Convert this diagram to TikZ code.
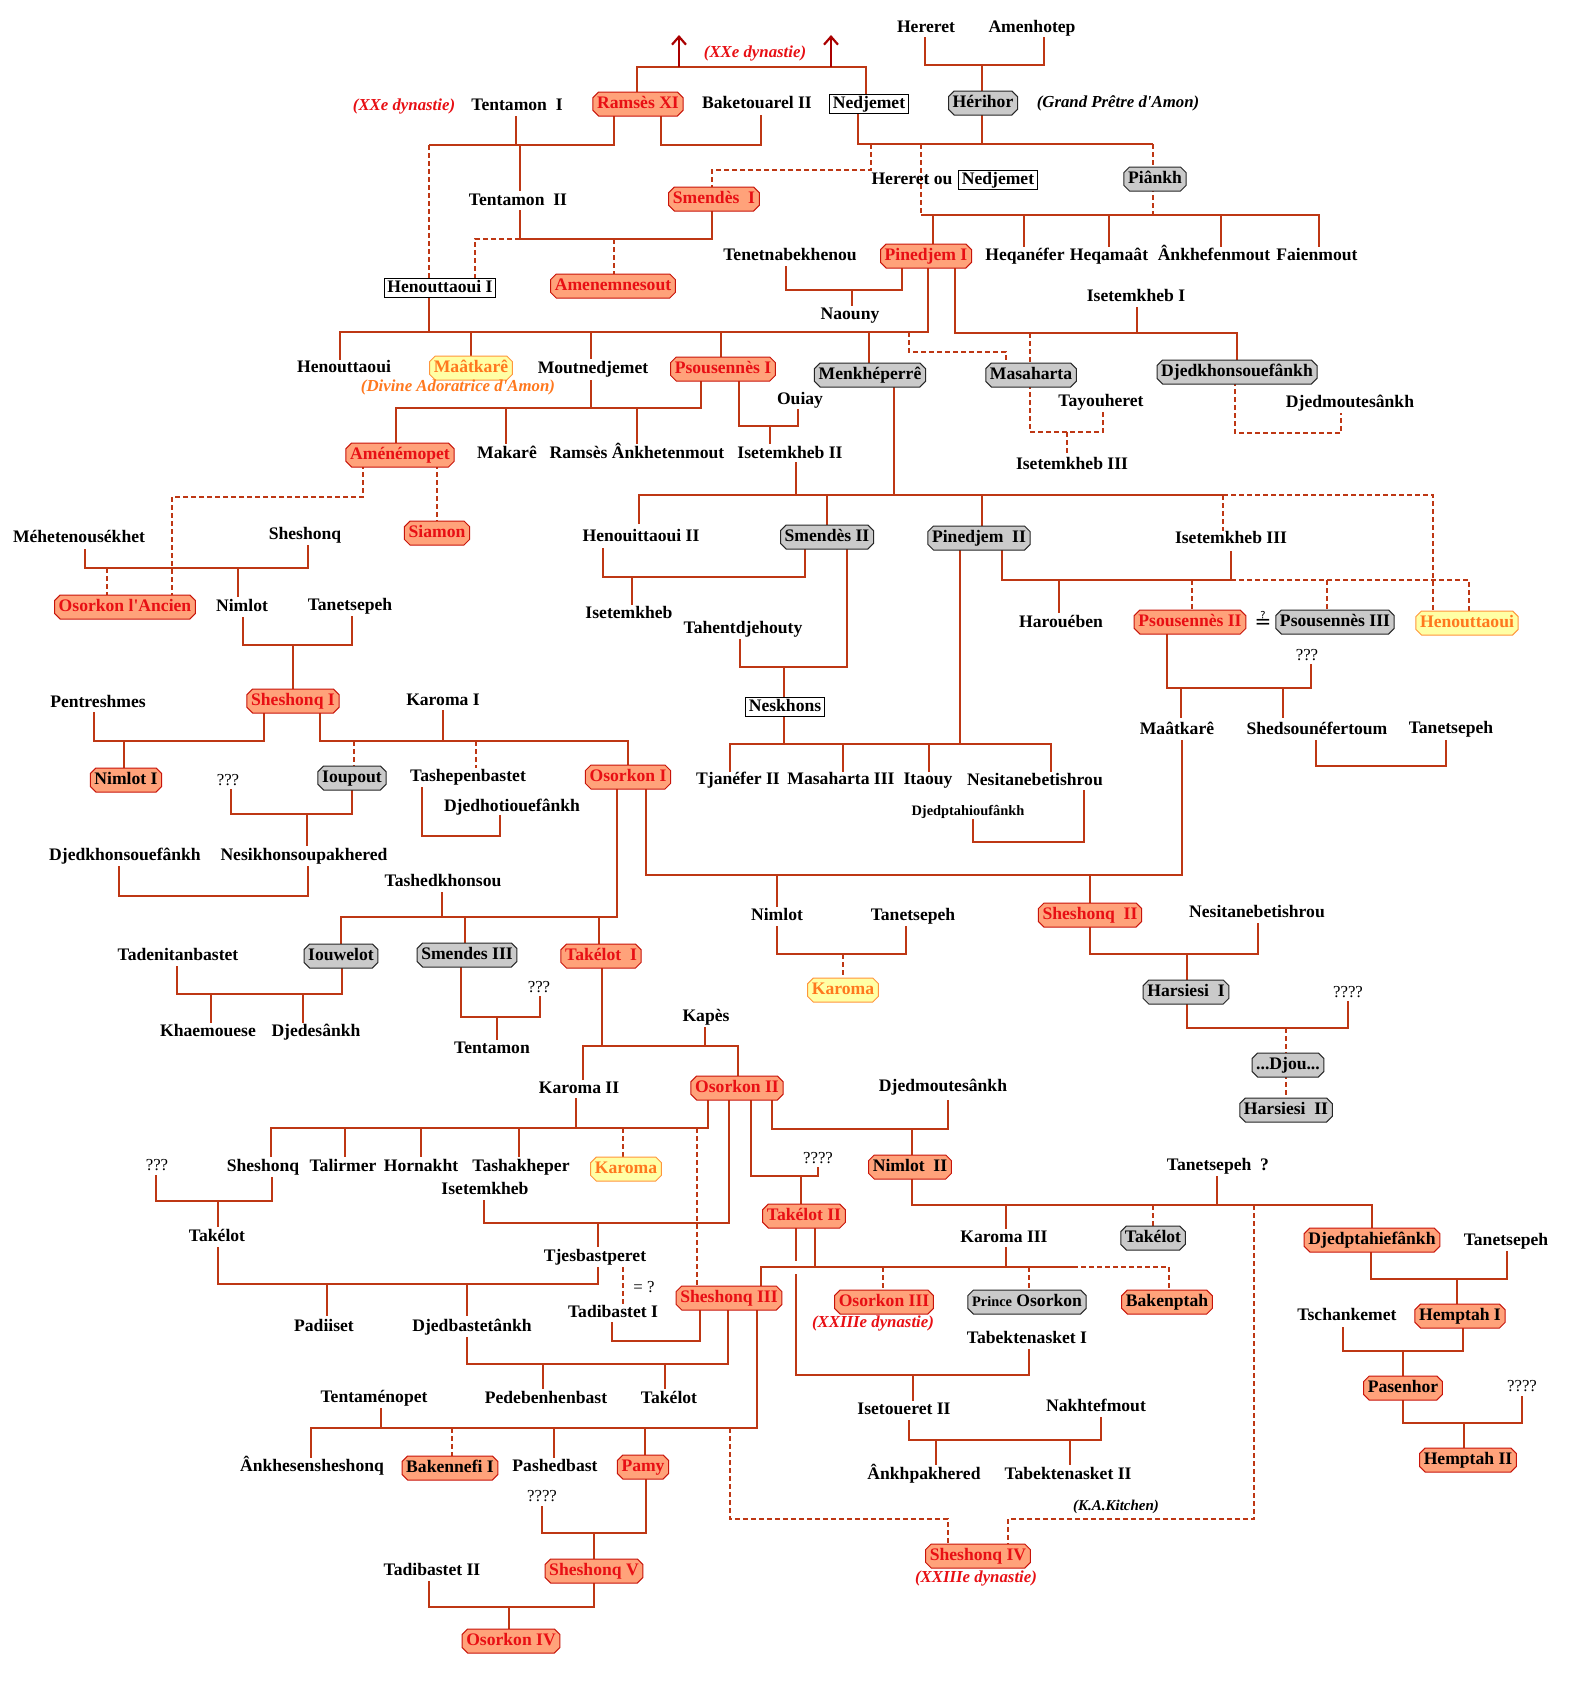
\documentclass[tikz,border=0pt]{standalone}
\usepackage{fontspec}
\setmainfont{Liberation Serif}
\newfontfamily\symfont{DejaVu Sans}
\usetikzlibrary{shapes.misc,arrows.meta}
\definecolor{lc}{RGB}{190,55,20}
\definecolor{kfill}{RGB}{255,162,122}
\definecolor{kbord}{RGB}{200,20,10}
\definecolor{ktext}{RGB}{232,15,20}
\definecolor{gfill}{RGB}{202,202,202}
\definecolor{yfill}{RGB}{255,255,165}
\definecolor{ybord}{RGB}{255,150,60}
\definecolor{ytext}{RGB}{255,120,30}
\definecolor{arr}{RGB}{170,0,0}
\newcommand\myNF{\fontsize{8.8}{10}\selectfont\bfseries}
\newcommand\myIT{\fontsize{8.4}{10}\selectfont\bfseries\itshape}
\newcommand\mySM{\fontsize{7.2}{8}\selectfont\bfseries}
\newcommand\myQQ{\fontsize{8.4}{10}\selectfont}
\tikzset{
 base/.style={font=\myNF, inner xsep=1pt, inner ysep=0.6pt, text height=6.2pt, text depth=1.8pt},
 nm/.style={base},
 pill/.style={base, chamfered rectangle, chamfered rectangle xsep=1.4pt, chamfered rectangle ysep=1.4pt, line width=0.5pt, inner xsep=0.7pt},
 king/.style={pill, fill=kfill, draw=kbord, text=ktext},
 kingb/.style={pill, fill=kfill, draw=kbord, text=black},
 gr/.style={pill, fill=gfill, draw=black!85},
 yl/.style={pill, fill=yfill, draw=ybord, text=ytext},
 bx/.style={base, rectangle, draw=black, fill=white, line width=0.5pt, inner xsep=1.5pt},
 rnote/.style={font=\myIT, text=ktext, inner sep=0.5pt},
 bnote/.style={font=\myIT, text=black, inner sep=0.5pt},
 onote/.style={font=\myIT, text=ytext, inner sep=0.5pt},
 qq/.style={font=\myQQ, inner sep=0.5pt},
 ln/.style={draw=lc, line width=1pt},
 dl/.style={ln, dash pattern=on 2.5pt off 1.5pt},
 ar/.style={draw=arr, line width=1.1pt, -{Straight Barb[length=4pt,width=7pt]}}
}
\begin{document}
\begin{tikzpicture}[x=0.5pt,y=-0.5pt]
\useasboundingbox[fill=white] (0,0) rectangle (1570,1687);
% ---------------- connectors ----------------
\draw[ln] (925,37)--(925,65)--(1044,65)--(1044,37);
\draw[ln] (982,65)--(982,95);
\draw[ln] (637,96)--(637,67)--(866,67)--(866,96);
\coordinate (a1) at (679,35); \coordinate (a2) at (831,35);
\draw[ar] (679,67)--(a1);
\draw[ar] (831,67)--(a2);
\draw[ln] (516,116)--(516,145);
\draw[ln] (429,145)--(614,145)--(614,112);
\draw[dl] (429,145)--(429,279);
\draw[ln] (520,145)--(520,191);
\draw[ln] (661,112)--(661,145)--(761,145)--(761,115);
\draw[ln] (858,113)--(858,144)--(1153,144);
\draw[ln] (982,111)--(982,144);
\draw[dl] (1153,144)--(1153,171);
\draw[dl] (1153,187)--(1153,215);
\draw[dl] (871,144)--(871,170)--(712,170)--(712,191);
\draw[dl] (921,144)--(921,215);
\draw[ln] (921,215)--(1319,215)--(1319,247);
\draw[ln] (933,215)--(933,247);
\draw[ln] (1024,215)--(1024,247);
\draw[ln] (1109,215)--(1109,247);
\draw[ln] (1221,215)--(1221,247);
\draw[ln] (520,210)--(520,239);
\draw[ln] (520,239)--(712,239)--(712,207);
\draw[dl] (520,239)--(475,239)--(475,279);
\draw[dl] (614,239)--(614,277);
\draw[ln] (786,266)--(786,290)--(902,290)--(902,265);
\draw[ln] (852,290)--(852,306);
\draw[ln] (429,297)--(429,332);
\draw[ln] (340,360)--(340,332)--(928,332)--(928,265);
\draw[ln] (471,332)--(471,360);
\draw[ln] (591,332)--(591,359);
\draw[ln] (721,332)--(721,360);
\draw[ln] (869,332)--(869,366);
\draw[dl] (909,332)--(909,352)--(1006,352)--(1006,366);
\draw[ln] (955,265)--(955,333)--(1237,333)--(1237,363);
\draw[ln] (1137,307)--(1137,333);
\draw[dl] (1030,333)--(1030,366);
\draw[dl] (1030,384)--(1030,432)--(1103,432)--(1103,411);
\draw[dl] (1067,432)--(1067,456);
\draw[dl] (1235,381)--(1235,433)--(1341,433)--(1341,413);
\draw[ln] (591,380)--(591,408);
\draw[ln] (396,446)--(396,408)--(701,408)--(701,378);
\draw[ln] (506,408)--(506,444);
\draw[ln] (637,408)--(637,444);
\draw[ln] (739,378)--(739,426)--(798,426)--(798,409);
\draw[ln] (770,426)--(770,444);
\draw[dl] (437,464)--(437,524);
\draw[dl] (363,464)--(363,497)--(172,497)--(172,598);
\draw[ln] (85,549)--(85,568)--(308,568)--(308,545);
\draw[dl] (107,568)--(107,598);
\draw[ln] (238,568)--(238,597);
\draw[ln] (243,617)--(243,645)--(352,645)--(352,616);
\draw[ln] (293,645)--(293,692);
\draw[ln] (94,712)--(94,741)--(264,741)--(264,710);
\draw[ln] (124,741)--(124,771);
\draw[ln] (320,710)--(320,741)--(628,741)--(628,768);
\draw[ln] (443,710)--(443,741);
\draw[dl] (354,741)--(354,769);
\draw[dl] (476,741)--(476,768);
\draw[ln] (231,789)--(231,814)--(352,814)--(352,787);
\draw[ln] (307,814)--(307,846);
\draw[ln] (422,787)--(422,836)--(500,836)--(500,815);
\draw[ln] (119,866)--(119,896)--(308,896)--(308,866);
\draw[ln] (442,892)--(442,917);
\draw[ln] (341,946)--(341,917)--(617,917)--(617,786);
\draw[ln] (465,917)--(465,946);
\draw[ln] (599,917)--(599,947);
\draw[ln] (177,966)--(177,994)--(342,994)--(342,965);
\draw[ln] (211,994)--(211,1023);
\draw[ln] (303,994)--(303,1023);
\draw[ln] (461,964)--(461,1017)--(540,1017)--(540,996);
\draw[ln] (497,1017)--(497,1040);
\draw[ln] (602,965)--(602,1046);
\draw[ln] (583,1080)--(583,1046)--(738,1046)--(738,1079);
\draw[ln] (705,1027)--(705,1046);
\draw[ln] (646,786)--(646,875)--(1182,875)--(1182,740);
\draw[ln] (777,875)--(777,907);
\draw[ln] (1090,875)--(1090,906);
\draw[ln] (777,926)--(777,954)--(906,954)--(906,926);
\draw[dl] (843,954)--(843,981);
\draw[ln] (1090,924)--(1090,954)--(1258,954)--(1258,923);
\draw[ln] (1187,954)--(1187,983);
\draw[ln] (1187,1001)--(1187,1028)--(1348,1028)--(1348,1001);
\draw[dl] (1286,1028)--(1286,1056);
\draw[dl] (1286,1074)--(1286,1101);
\draw[ln] (894,384)--(894,495);
\draw[ln] (639,524)--(639,495)--(1223,495);
\draw[dl] (1223,495)--(1433,495)--(1433,613);
\draw[ln] (796,462)--(796,495);
\draw[ln] (827,495)--(827,528);
\draw[ln] (982,495)--(982,529);
\draw[dl] (1223,495)--(1223,531);
\draw[ln] (603,548)--(603,577)--(805,577)--(805,546);
\draw[ln] (632,577)--(632,605);
\draw[ln] (847,546)--(847,667)--(740,667)--(740,639);
\draw[ln] (784,667)--(784,698);
\draw[ln] (784,716)--(784,744);
\draw[ln] (730,772)--(730,744)--(1051,744)--(1051,772);
\draw[ln] (960,547)--(960,744);
\draw[ln] (843,744)--(843,772);
\draw[ln] (929,744)--(929,772);
\draw[ln] (973,819)--(973,842)--(1084,842)--(1084,790);
\draw[ln] (1002,547)--(1002,580)--(1231,580);
\draw[ln] (1231,551)--(1231,580);
\draw[dl] (1231,580)--(1469,580)--(1469,613);
\draw[ln] (1059,580)--(1059,613);
\draw[dl] (1192,580)--(1192,613);
\draw[dl] (1327,580)--(1327,613);
\draw[ln] (1167,631)--(1167,688)--(1311,688)--(1311,664);
\draw[ln] (1181,688)--(1181,718);
\draw[ln] (1283,688)--(1283,718);
\draw[ln] (1316,740)--(1316,766)--(1446,766)--(1446,740);
% Osorkon II descendants
\draw[ln] (271,1157)--(271,1128)--(708,1128)--(708,1097);
\draw[ln] (576,1098)--(576,1128);
\draw[ln] (345,1128)--(345,1157);
\draw[ln] (421,1128)--(421,1157);
\draw[ln] (519,1128)--(519,1157);
\draw[dl] (623,1128)--(623,1160);
\draw[dl] (697,1128)--(697,1289);
\draw[ln] (729,1097)--(729,1223)--(484,1223)--(484,1200);
\draw[ln] (751,1097)--(751,1176)--(818,1176)--(818,1167);
\draw[ln] (801,1176)--(801,1207);
\draw[ln] (772,1097)--(772,1129)--(948,1129)--(948,1100);
\draw[ln] (912,1129)--(912,1158);
\draw[ln] (272,1177)--(272,1201)--(156,1201)--(156,1175);
\draw[ln] (218,1201)--(218,1227);
\draw[ln] (218,1247)--(218,1284)--(598,1284)--(598,1267);
\draw[ln] (598,1223)--(598,1247);
\draw[ln] (327,1284)--(327,1316);
\draw[ln] (467,1284)--(467,1316);
\draw[dl] (623,1267)--(623,1304);
\draw[ln] (612,1322)--(612,1341)--(700,1341)--(700,1307);
\draw[ln] (467,1337)--(467,1364)--(728,1364)--(728,1307);
\draw[ln] (543,1364)--(543,1389);
\draw[ln] (665,1364)--(665,1389);
\draw[ln] (757,1307)--(757,1428)--(311,1428)--(311,1458);
\draw[ln] (381,1408)--(381,1428);
\draw[dl] (452,1428)--(452,1460);
\draw[ln] (554,1428)--(554,1458);
\draw[ln] (645,1428)--(645,1459);
\draw[dl] (730,1428)--(730,1519)--(948,1519)--(948,1548);
\draw[ln] (542,1506)--(542,1533)--(646,1533)--(646,1476);
\draw[ln] (594,1533)--(594,1563);
\draw[ln] (429,1581)--(429,1607)--(594,1607)--(594,1580);
\draw[ln] (509,1607)--(509,1633);
\draw[ln] (912,1176)--(912,1205)--(1372,1205)--(1372,1232);
\draw[ln] (1006,1205)--(1006,1229);
\draw[ln] (1217,1176)--(1217,1205);
\draw[dl] (1153,1205)--(1153,1230);
\draw[dl] (1254,1205)--(1254,1519)--(1008,1519)--(1008,1548);
\draw[ln] (761,1289)--(761,1267)--(1073,1267);
\draw[dl] (1073,1267)--(1169,1267)--(1169,1294);
\draw[ln] (815,1225)--(815,1267);
\draw[ln] (1006,1247)--(1006,1267);
\draw[dl] (883,1267)--(883,1294);
\draw[dl] (1029,1267)--(1029,1294);
\draw[ln] (796,1225)--(796,1261);
\draw[ln] (796,1274)--(796,1375)--(1029,1375)--(1029,1349);
\draw[ln] (913,1375)--(913,1401);
\draw[ln] (909,1420)--(909,1440)--(1101,1440)--(1101,1417);
\draw[ln] (936,1440)--(936,1465);
\draw[ln] (1070,1440)--(1070,1465);
\draw[ln] (1371,1249)--(1371,1279)--(1507,1279)--(1507,1251);
\draw[ln] (1457,1279)--(1457,1308);
\draw[ln] (1343,1327)--(1343,1351)--(1463,1351)--(1463,1325);
\draw[ln] (1403,1351)--(1403,1380);
\draw[ln] (1403,1397)--(1403,1423)--(1522,1423)--(1522,1396);
\draw[ln] (1464,1423)--(1464,1452);
% ---------------- nodes ----------------
\node[nm] (hereret) at (926,28) {Hereret};
\node[nm] (amenhotep) at (1032,28) {Amenhotep};
\node[rnote] (xxe1) at (755,53) {(XXe dynastie)};
\node[king] (ramses11) at (638,104) {Ramsès XI};
\node[rnote] (xxe2) at (404,106) {(XXe dynastie)};
\node[nm] (tentamon1) at (517,106) {Tentamon\ \ I};
\node[nm] (baketouarel) at (757,104) {Baketouarel II};
\node[bx] (nedjemet1) at (869,104) {Nedjemet};
\node[gr] (herihor) at (983,103) {Hérihor};
\node[bnote] (gpa) at (1118,103) {(Grand Prêtre d\textquotesingle Amon)};
\node[nm] (tentamon2) at (518,201) {Tentamon\ \ II};
\node[king] (smendes1) at (714,199) {Smendès\ \ I};
\node[nm] (hereretou) at (912,180) {Hereret ou};
\node[bx] (nedjemet2) at (998,180) {Nedjemet};
\node[gr] (piankh) at (1155,179) {Piânkh};
\node[bx] (henouttaoui1) at (440,288) {Henouttaoui I};
\node[king] (amenemnesout) at (613,286) {Amenemnesout};
\node[nm] (tenetnabekhenou) at (790,256) {Tenetnabekhenou};
\node[king] (pinedjem1) at (926,256) {Pinedjem I};
\node[nm] (heqanefer) at (1025,256) {Heqanéfer};
\node[nm] (heqamaat) at (1109,256) {Heqamaât};
\node[nm] (ankhefenmout) at (1214,256) {Ânkhefenmout};
\node[nm] (faienmout) at (1317,256) {Faienmout};
\node[nm] (naouny) at (850,315) {Naouny};
\node[nm] (isetemkheb1) at (1136,297) {Isetemkheb I};
\node[nm] (henouttaoui) at (344,368) {Henouttaoui};
\node[yl] (maatkare1) at (471,368) {Maâtkarê};
\node[onote] (divine) at (458,387) {(Divine Adoratrice d\textquotesingle Amon)};
\node[nm] (moutnedjemet) at (593,369) {Moutnedjemet};
\node[king] (psousennes1) at (723,369) {Psousennès I};
\node[gr] (menkheperre) at (870,375) {Menkhéperrê};
\node[gr] (masaharta) at (1031,375) {Masaharta};
\node[gr] (djedkh1) at (1237,372) {Djedkhonsouefânkh};
\node[nm] (ouiay) at (800,400) {Ouiay};
\node[nm] (tayouheret) at (1101,402) {Tayouheret};
\node[nm] (djedmout1) at (1350,403) {Djedmoutesânkh};
\node[king] (amenemopet) at (400,455) {Aménémopet};
\node[nm] (makare) at (507,454) {Makarê};
\node[nm] (ramsesank) at (637,454) {Ramsès Ânkhetenmout};
\node[nm] (isetemkheb2) at (790,454) {Isetemkheb II};
\node[nm] (isetemkheb3a) at (1072,465) {Isetemkheb III};
\node[king] (siamon) at (437,533) {Siamon};
\node[nm] (mehetenousekhet) at (79,538) {Méhetenousékhet};
\node[nm] (sheshonqa) at (305,535) {Sheshonq};
\node[nm] (henouittaoui2) at (641,537) {Henouittaoui II};
\node[gr] (smendes2) at (827,537) {Smendès II};
\node[gr] (pinedjem2) at (979,538) {Pinedjem\ \ II};
\node[nm] (isetemkheb3b) at (1231,539) {Isetemkheb III};
\node[king] (osorkonancien) at (125,607) {Osorkon l\textquotesingle Ancien};
\node[nm] (nimlota) at (242,607) {Nimlot};
\node[nm] (tanetsepeha) at (350,606) {Tanetsepeh};
\node[nm] (isetemkheb) at (629,614) {Isetemkheb};
\node[nm] (tahentdjehouty) at (743,629) {Tahentdjehouty};
\node[nm] (haroueben) at (1061,623) {Harouében};
\node[king] (psousennes2) at (1190,622) {Psousennès II};
\node[inner sep=0pt, font=\symfont\fontsize{10}{11}\selectfont] (eqq) at (1263,620) {≟};
\node[gr] (psousennes3) at (1335,622) {Psousennès III};
\node[yl] (henouttaouiy) at (1467,623) {Henouttaoui};
\node[qq] (q3e) at (1307,655) {???};
\node[nm] (pentreshmes) at (98,703) {Pentreshmes};
\node[king] (sheshonq1) at (293,701) {Sheshonq I};
\node[nm] (karoma1) at (443,701) {Karoma I};
\node[bx] (neskhons) at (785,707) {Neskhons};
\node[nm] (maatkare2) at (1177,730) {Maâtkarê};
\node[nm] (shedsou) at (1317,730) {Shedsounéfertoum};
\node[nm] (tanetsepehb) at (1451,729) {Tanetsepeh};
\node[kingb] (nimlot1) at (126,780) {Nimlot I};
\node[qq] (q3a) at (228,780) {???};
\node[gr] (ioupout) at (352,778) {Ioupout};
\node[nm] (tashepenbastet) at (468,777) {Tashepenbastet};
\node[king] (osorkon1) at (628,777) {Osorkon I};
\node[nm] (tjanefer2) at (738,780) {Tjanéfer II};
\node[nm] (masaharta3) at (841,780) {Masaharta III};
\node[nm] (itaouy) at (928,780) {Itaouy};
\node[nm] (nesitaneba) at (1035,781) {Nesitanebetishrou};
\node[nm] (djedhotiou) at (512,807) {Djedhotiouefânkh};
\node[nm,font=\mySM] (djedptahiou) at (968,811) {Djedptahioufânkh};
\node[nm] (djedkh2) at (125,856) {Djedkhonsouefânkh};
\node[nm] (nesikhons) at (304,856) {Nesikhonsoupakhered};
\node[nm] (tashedkhonsou) at (443,882) {Tashedkhonsou};
\node[nm] (nimlotb) at (777,916) {Nimlot};
\node[nm] (tanetsepehc) at (913,916) {Tanetsepeh};
\node[king] (sheshonq2) at (1090,915) {Sheshonq\ \ II};
\node[nm] (nesitanebb) at (1257,913) {Nesitanebetishrou};
\node[nm] (tadenitanbastet) at (178,956) {Tadenitanbastet};
\node[gr] (iouwelot) at (341,956) {Iouwelot};
\node[gr] (smendes3) at (467,955) {Smendes III};
\node[king] (takelot1) at (601,956) {Takélot\ \ I};
\node[yl] (karomay1) at (843,990) {Karoma};
\node[gr] (harsiesi1) at (1186,992) {Harsiesi\ \ I};
\node[qq] (q4a) at (1348,992) {????};
\node[qq] (q3b) at (539,987) {???};
\node[nm] (khaemouese) at (208,1032) {Khaemouese};
\node[nm] (djedesankh) at (316,1032) {Djedesânkh};
\node[nm] (tentamon) at (492,1049) {Tentamon};
\node[nm] (kapes) at (706,1017) {Kapès};
\node[gr] (djou) at (1288,1065) {...Djou...};
\node[nm] (karoma2) at (579,1089) {Karoma II};
\node[king] (osorkon2) at (737,1088) {Osorkon II};
\node[nm] (djedmout2) at (943,1087) {Djedmoutesânkh};
\node[gr] (harsiesi2) at (1286,1110) {Harsiesi\ \ II};
\node[qq] (q3c) at (157,1165) {???};
\node[nm] (sheshonqb) at (263,1167) {Sheshonq};
\node[nm] (talirmer) at (343,1167) {Talirmer};
\node[nm] (hornakht) at (421,1167) {Hornakht};
\node[nm] (tashakheper) at (521,1167) {Tashakheper};
\node[yl] (karomay2) at (626,1169) {Karoma};
\node[qq] (q4b) at (818,1158) {????};
\node[kingb] (nimlot2) at (910,1167) {Nimlot\ \ II};
\node[nm] (tanetsepehq) at (1218,1166) {Tanetsepeh\ \ ?};
\node[nm] (isetemkhebb) at (485,1190) {Isetemkheb};
\node[king] (takelot2) at (804,1216) {Takélot II};
\node[nm] (takelota) at (217,1237) {Takélot};
\node[nm] (karoma3) at (1004,1238) {Karoma III};
\node[gr] (takelotg) at (1153,1238) {Takélot};
\node[kingb] (djedptahief) at (1372,1240) {Djedptahiefânkh};
\node[nm] (tanetsepehd) at (1506,1241) {Tanetsepeh};
\node[nm] (tjesbastperet) at (595,1257) {Tjesbastperet};
\node[qq] (eqq2) at (644,1287) {= ?};
\node[king] (sheshonq3) at (729,1298) {Sheshonq III};
\node[king] (osorkon3) at (884,1302) {Osorkon III};
\node[gr] (princeosorkon) at (1027,1302) {{\mySM Prince} Osorkon};
\node[kingb] (bakenptah) at (1167,1302) {Bakenptah};
\node[nm] (tadibastet1) at (613,1313) {Tadibastet I};
\node[kingb] (hemptah1) at (1460,1316) {Hemptah I};
\node[nm] (tschankemet) at (1347,1316) {Tschankemet};
\node[rnote] (xxiii1) at (873,1323) {(XXIIIe dynastie)};
\node[nm] (padiiset) at (324,1327) {Padiiset};
\node[nm] (djedbastetankh) at (472,1327) {Djedbastetânkh};
\node[nm] (tabektenasket1) at (1027,1339) {Tabektenasket I};
\node[kingb] (pasenhor) at (1403,1388) {Pasenhor};
\node[qq] (q4c) at (1522,1386) {????};
\node[nm] (tentamenopet) at (374,1398) {Tentaménopet};
\node[nm] (pedebenhenbast) at (546,1399) {Pedebenhenbast};
\node[nm] (takelotb) at (669,1399) {Takélot};
\node[nm] (nakhtefmout) at (1096,1407) {Nakhtefmout};
\node[nm] (isetoueret2) at (904,1410) {Isetoueret II};
\node[kingb] (hemptah2) at (1468,1460) {Hemptah II};
\node[nm] (ankhesen) at (312,1467) {Ânkhesensheshonq};
\node[kingb] (bakennefi1) at (450,1468) {Bakennefi I};
\node[nm] (pashedbast) at (555,1467) {Pashedbast};
\node[king] (pamy) at (643,1467) {Pamy};
\node[nm] (ankhpakhered) at (924,1475) {Ânkhpakhered};
\node[nm] (tabektenasket2) at (1068,1475) {Tabektenasket II};
\node[qq] (q4d) at (542,1496) {????};
\node[bnote,font=\fontsize{7.5}{9}\selectfont\bfseries\itshape] (kitchen) at (1116,1507) {(K.A.Kitchen)};
\node[king] (sheshonq4) at (978,1556) {Sheshonq IV};
\node[rnote] (xxiii2) at (976,1578) {(XXIIIe dynastie)};
\node[king] (sheshonq5) at (594,1571) {Sheshonq V};
\node[nm] (tadibastet2) at (432,1571) {Tadibastet II};
\node[king] (osorkon4) at (511,1641) {Osorkon IV};
\end{tikzpicture}
\end{document}
